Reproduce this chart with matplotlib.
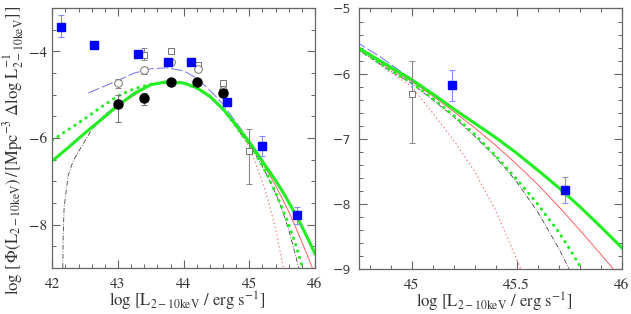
import matplotlib
matplotlib.use('Agg')
import matplotlib.pyplot as plt
from matplotlib.ticker import MultipleLocator, FormatStrFormatter

plt.rcParams['mathtext.fontset'] = 'stix'
plt.rcParams['font.family'] = 'STIXGeneral'

# %% data
# model curves (log L, log Phi)
green_x = [42.0, 42.25, 42.5, 42.75, 43.0, 43.25, 43.5, 43.75, 44.0, 44.2, 44.4,
           44.6, 44.75, 44.9, 45.0, 45.1, 45.2, 45.3, 45.4, 45.5, 45.6, 45.7, 45.8,
           45.9, 46.0]
green_y = [-6.53, -6.21, -5.88, -5.57, -5.25, -4.97, -4.77, -4.70, -4.73, -4.84, -5.04,
           -5.33, -5.61, -5.90, -6.09, -6.31, -6.54, -6.76, -6.98, -7.22, -7.48, -7.75,
           -8.04, -8.35, -8.67]

gdot_x = [42.0, 42.25, 42.5, 42.75, 43.0, 43.25, 43.5, 43.75, 44.0, 44.2, 44.4, 44.6,
          44.75, 44.9, 45.0, 45.1, 45.2, 45.3, 45.4, 45.5, 45.6, 45.7, 45.75, 45.81]
gdot_y = [-6.05, -5.80, -5.55, -5.28, -5.03, -4.86, -4.76, -4.71, -4.74, -4.85, -5.04, -5.34,
          -5.63, -5.95, -6.14, -6.38, -6.64, -6.93, -7.26, -7.62, -8.00, -8.43, -8.68, -9.0]

dd_x = [42.16, 42.165, 42.18, 42.24, 42.32, 42.42, 42.57, 42.78, 43.0, 43.25, 43.5, 43.75,
        44.0, 44.2, 44.4, 44.6, 44.75, 44.9, 45.0, 45.1, 45.2, 45.3, 45.4, 45.5, 45.6,
        45.7, 45.75]
dd_y = [-9.0, -8.3, -7.6, -6.87, -6.52, -6.26, -5.88, -5.49, -5.22, -4.97, -4.77, -4.70,
        -4.73, -4.84, -5.04, -5.34, -5.64, -5.96, -6.15, -6.40, -6.66, -6.96, -7.28, -7.66,
        -8.12, -8.68, -9.0]

red_x = [42.0, 42.5, 43.0, 43.5, 43.75, 44.0, 44.2, 44.4, 44.6, 44.75, 44.9, 45.0,
         45.1, 45.2, 45.3, 45.4, 45.5, 45.6, 45.7, 45.8, 45.9, 45.96]
red_y = [-6.53, -5.88, -5.25, -4.77, -4.70, -4.73, -4.84, -5.04, -5.33, -5.62, -5.93, -6.12,
         -6.34, -6.58, -6.83, -7.10, -7.39, -7.70, -8.04, -8.40, -8.77, -9.0]

rdot_x = [42.0, 42.5, 43.0, 43.5, 43.75, 44.0, 44.2, 44.4, 44.6, 44.75, 44.9, 45.0,
          45.1, 45.2, 45.3, 45.4, 45.5, 45.52]
rdot_y = [-6.53, -5.88, -5.25, -4.77, -4.70, -4.73, -4.84, -5.04, -5.33, -5.63, -5.98, -6.20,
          -6.60, -7.02, -7.50, -8.10, -8.85, -9.0]

blue_x = [42.55, 42.8, 43.0, 43.25, 43.5, 43.75, 44.0, 44.2, 44.4, 44.6, 44.75, 44.85,
          44.95, 45.0]
blue_y = [-4.96, -4.80, -4.67, -4.50, -4.40, -4.38, -4.45, -4.62, -4.90, -5.22, -5.54, -5.74,
          -5.97, -6.09]

# data points
sq_x = [42.13, 42.64, 43.30, 43.76, 44.11, 44.66, 45.19, 45.73]
sq_y = [-3.43, -3.85, -4.06, -4.24, -4.24, -5.16, -6.18, -7.78]
sq_lo = [0.25, 0.04, 0.04, 0.04, 0.04, 0.04, 0.24, 0.20]
sq_hi = [0.26, 0.04, 0.04, 0.04, 0.04, 0.04, 0.23, 0.19]

fc_x = [43.0, 43.4, 43.8, 44.21, 44.6]
fc_y = [-5.21, -5.08, -4.70, -4.71, -4.96]
fc_lo = [0.42, 0.15, 0.04, 0.04, 0.05]
fc_hi = [0.21, 0.12, 0.04, 0.04, 0.05]

oc_x = [43.0, 43.4, 43.8, 44.22, 44.6]
oc_y = [-4.74, -4.44, -4.24, -4.41, -4.90]
oc_err = [0.10, 0.08, 0.05, 0.05, 0.10]

os_x = [43.4, 43.8, 44.22, 44.6, 45.0]
os_y = [-4.08, -4.00, -4.31, -4.73, -6.31]
os_lo = [0.12, 0.07, 0.07, 0.08, 0.76]
os_hi = [0.16, 0.07, 0.07, 0.08, 0.51]

# %%
fig = plt.figure(figsize=(6.31, 3.14), dpi=100)
axl = fig.add_axes([0.0829, 0.1465, 0.4163, 0.828])
axr = fig.add_axes([0.569, 0.143, 0.4163, 0.830])

txt = '#333333'
for ax in (axl, axr):
    ax.plot(rdot_x, rdot_y, color='#ff7070', lw=0.9, ls=(0, (1, 2.2)))
    ax.plot(red_x, red_y, color='#ff6060', lw=0.7)
    ax.plot(dd_x, dd_y, color='#444444', lw=0.6, ls=(0, (6, 2, 1, 2)))
    ax.plot(blue_x, blue_y, color='#7070ff', lw=0.7, ls=(0, (12, 3)))
    ax.plot(gdot_x, gdot_y, color='#22ee22', lw=2.2, ls=(0, (0.1, 2.1)),
            dash_capstyle='round')
    ax.plot(green_x, green_y, color='#22ee22', lw=2.2)

    ax.errorbar(os_x, os_y, yerr=[os_lo, os_hi], fmt='s', ms=4.5, mfc='white',
                mec='#777777', mew=0.7, ecolor='#888888', elinewidth=0.8,
                capsize=2.5, capthick=0.8)
    ax.errorbar(oc_x, oc_y, yerr=oc_err, fmt='o', ms=5.5, mfc='white',
                mec='#777777', mew=0.7, ecolor='#888888', elinewidth=0.8,
                capsize=2.5, capthick=0.8)
    ax.errorbar(fc_x, fc_y, yerr=[fc_lo, fc_hi], fmt='o', ms=6.5, color='black',
                ecolor='#777777', elinewidth=0.8, capsize=2.5, capthick=0.8)
    ax.errorbar(sq_x, sq_y, yerr=[sq_lo, sq_hi], fmt='s', ms=5.5, color='#0000ff',
                ecolor='#8888ff', elinewidth=0.8, capsize=2.5, capthick=0.8)

    ax.tick_params(which='both', direction='in', top=True, right=True,
                   colors='#666666', labelcolor=txt, labelsize=11)
    ax.tick_params(axis='x', pad=7)
    ax.tick_params(which='major', length=6, width=0.8)
    ax.tick_params(which='minor', length=3, width=0.7)
    for s in ax.spines.values():
        s.set_color('#666666')
        s.set_linewidth(0.9)
    ax.set_xlabel(r'log [L$_{\rm 2-10keV}$ / erg s$^{-1}$]', fontsize=12, color=txt)

axl.set_xlim(42, 46)
axl.set_ylim(-9, -3)
axl.xaxis.set_major_locator(MultipleLocator(1))
axl.xaxis.set_minor_locator(MultipleLocator(0.2))
axl.yaxis.set_major_locator(MultipleLocator(2))
axl.yaxis.set_minor_locator(MultipleLocator(0.5))
axl.set_ylabel(r'log $[\,\Phi(\mathrm{L_{2-10keV}})\,/\,[\mathrm{Mpc^{-3}}\ \Delta\mathrm{log\ L^{-1}_{2-10keV}}]\,]$',
               fontsize=12, color=txt)
axl.yaxis.set_label_coords(-0.10, 0.455)
axl.xaxis.set_label_coords(0.513, -0.085)

axr.set_xlim(44.75, 46)
axr.set_ylim(-9, -5)
axr.xaxis.set_major_locator(MultipleLocator(0.5))
axr.xaxis.set_minor_locator(MultipleLocator(0.1))
axr.xaxis.set_major_formatter(FormatStrFormatter('%g'))
axr.yaxis.set_major_locator(MultipleLocator(1))
axr.yaxis.set_minor_locator(MultipleLocator(0.2))
axr.tick_params(axis='y', pad=6)
for lab in axr.get_yticklabels():
    lab.set_family('DejaVu Sans')
    lab.set_fontsize(9)
    lab.set_color('#444444')
axr.xaxis.set_label_coords(0.512, -0.085)

fig.savefig('out.png', dpi=100)
